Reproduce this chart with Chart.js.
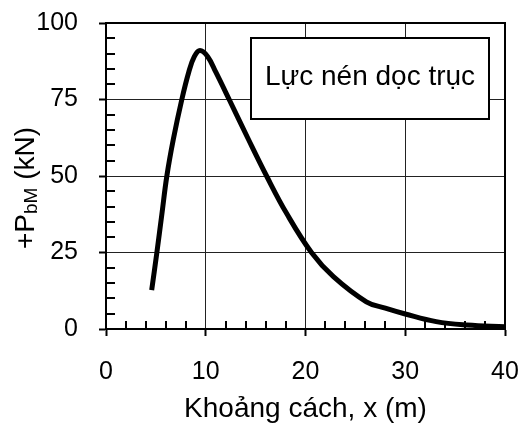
<!DOCTYPE html>
<html>
<head>
<meta charset="utf-8">
<script src="https://cdn.jsdelivr.net/npm/chart.js@4"></script>
<style>
  html, body { margin: 0; padding: 0; background: #fff; }
  #wrap { width: 528px; height: 423px; }
</style>
</head>
<body>
<div id="wrap"><canvas id="chart" width="528" height="423"></canvas></div>
<script>
// Axial force along the pile
const distance = [4.58, 5.1, 5.6, 6.1, 6.75, 7.6, 8.3, 8.85, 9.42, 10.2, 11.0, 12.35, 14.2, 16.1, 18.1, 20.6, 22.8, 26.1, 28.0, 30.0, 33.1, 36.2, 40.0];
const force = [12.7, 25, 37.5, 50, 62, 75, 84, 89, 91, 89, 84, 75, 62.5, 50, 37.8, 25, 17.1, 8.9, 6.8, 4.9, 2.4, 1.3, 0.75];

const xTicks = [0, 10, 20, 30, 40];
const yTicks = [0, 25, 50, 75, 100];
const xMinorStep = 2;
const yMinorStep = 5;

const boxLabel = 'Lực nén dọc trục';
const xTitle = 'Khoảng cách, x (m)';
const yTitle = ['+P', 'bM', ' (kN)'];

const FONT = '"Liberation Sans", Arial, sans-serif';

const points = distance.map((d, i) => ({ x: d, y: force[i] }));

// frame, minor ticks, titles and the label box
const decorPlugin = {
  id: 'decor',
  afterDraw(chart) {
    const ctx = chart.ctx;
    const area = chart.chartArea;
    const xs = chart.scales.x;
    const ys = chart.scales.y;

    ctx.save();
    ctx.strokeStyle = '#000';
    ctx.lineWidth = 2;
    ctx.strokeRect(area.left, area.top, area.right - area.left, area.bottom - area.top);

    // minor ticks pointing inwards
    ctx.beginPath();
    for (let v = xs.min; v <= xs.max; v += xMinorStep) {
      if (v % 10 === 0) continue;
      const px = Math.round(xs.getPixelForValue(v));
      ctx.moveTo(px, area.bottom);
      ctx.lineTo(px, area.bottom - 8);
    }
    for (let v = ys.min; v <= ys.max; v += yMinorStep) {
      if (v % 25 === 0) continue;
      const py = Math.round(ys.getPixelForValue(v));
      ctx.moveTo(area.left, py);
      ctx.lineTo(area.left + 9, py);
    }
    ctx.stroke();

    // label box
    const bx = area.left + 145, by = area.top + 15, bw = 238, bh = 81;
    ctx.fillStyle = '#fff';
    ctx.fillRect(bx, by, bw, bh);
    ctx.strokeRect(bx, by, bw, bh);
    ctx.fillStyle = '#000';
    ctx.font = '28px ' + FONT;
    ctx.textAlign = 'center';
    ctx.textBaseline = 'alphabetic';
    ctx.fillText(boxLabel, bx + bw / 2, by + 47);

    // x title
    ctx.fillText(xTitle, (area.left + area.right) / 2, area.bottom + 88);

    // y title with subscript
    ctx.translate(34, 188);
    ctx.rotate(-Math.PI / 2);
    ctx.textAlign = 'left';
    const big = '28px ' + FONT, small = '19px ' + FONT;
    ctx.font = big;
    const w1 = ctx.measureText(yTitle[0]).width;
    const w3 = ctx.measureText(yTitle[2]).width;
    ctx.font = small;
    const w2 = ctx.measureText(yTitle[1]).width;
    let x0 = -(w1 + w2 + w3) / 2;
    ctx.font = big;
    ctx.fillText(yTitle[0], x0, 0);
    x0 += w1;
    ctx.font = small;
    ctx.fillText(yTitle[1], x0, 3);
    x0 += w2;
    ctx.font = big;
    ctx.fillText(yTitle[2], x0, 0);
    ctx.restore();
  }
};

new Chart(document.getElementById('chart'), {
  type: 'scatter',
  data: {
    datasets: [{
      data: points,
      showLine: true,
      borderColor: '#000',
      borderWidth: 5,
      borderJoinStyle: 'round',
      pointRadius: 0,
      tension: 0.4,
      fill: false
    }]
  },
  options: {
    responsive: false,
    animation: false,
    layout: { padding: { top: 23, right: 23, left: 0, bottom: 0 } },
    plugins: {
      legend: { display: false },
      tooltip: { enabled: false }
    },
    scales: {
      x: {
        type: 'linear',
        min: 0,
        max: 40,
        afterBuildTicks: s => { s.ticks = xTicks.map(v => ({ value: v })); },
        afterFit: s => { s.height = 94; s.paddingLeft = 0; s.paddingRight = 0; },
        ticks: { color: '#000', font: { family: FONT, size: 25 }, padding: 21, maxRotation: 0 },
        grid: { color: '#222', lineWidth: 1, drawTicks: true, tickLength: 7, tickColor: '#000', tickWidth: 2 },
        border: { display: true, color: '#000', width: 2 }
      },
      y: {
        type: 'linear',
        min: 0,
        max: 100,
        afterBuildTicks: s => { s.ticks = yTicks.map(v => ({ value: v })); },
        afterFit: s => { s.width = 106; s.paddingTop = 0; s.paddingBottom = 0; },
        ticks: { color: '#000', font: { family: FONT, size: 25 }, padding: 21 },
        grid: { color: '#222', lineWidth: 1, drawTicks: true, tickLength: 7, tickColor: '#000', tickWidth: 2 },
        border: { display: true, color: '#000', width: 2 }
      }
    }
  },
  plugins: [decorPlugin]
});
</script>
</body>
</html>
